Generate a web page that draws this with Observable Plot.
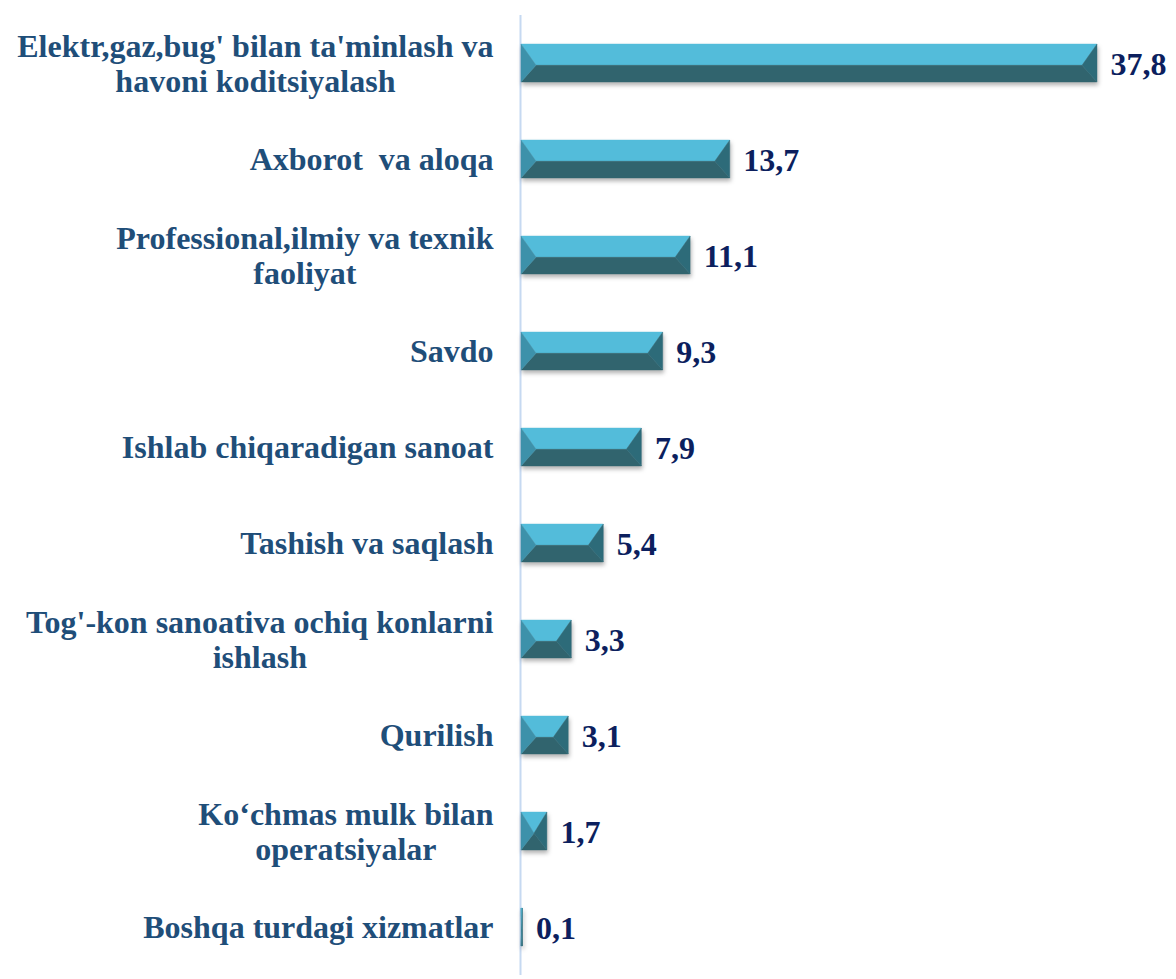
<!DOCTYPE html>
<html>
<head>
<meta charset="utf-8">
<script src="https://cdn.jsdelivr.net/npm/d3@7"></script>
<script src="https://cdn.jsdelivr.net/npm/@observablehq/plot@0.6"></script>
<style>
  html, body { margin: 0; padding: 0; background: #fff; }
  #chart svg { display: block; }
</style>
</head>
<body>
<div id="chart"></div>
<script>
// ---- data ----
const categories = [
  "Elektr,gaz,bug' bilan ta'minlash va\nhavoni koditsiyalash",
  "Axborot  va aloqa",
  "Professional,ilmiy va texnik\nfaoliyat",
  "Savdo",
  "Ishlab chiqaradigan sanoat",
  "Tashish va saqlash",
  "Tog'-kon sanoativa ochiq konlarni\nishlash",
  "Qurilish",
  "Ko‘chmas mulk bilan\noperatsiyalar",
  "Boshqa turdagi xizmatlar"
];
const shares = [37.8, 13.7, 11.1, 9.3, 7.9, 5.4, 3.3, 3.1, 1.7, 0.1];

const data = categories.map((name, i) => ({name, value: shares[i]}));

// ---- styling ----
const FONT = "'Liberation Serif', 'Times New Roman', serif";
const LABEL_SIZE = 32;
const LABEL_GAP = 28;
const measureCtx = document.createElement("canvas").getContext("2d");
measureCtx.font = `bold ${LABEL_SIZE}px 'Liberation Serif'`;
const blockWidth = s => Math.max(...s.split("\n").map(l => measureCtx.measureText(l).width));

const C_TOP = "#53bcda", C_BOTTOM = "#31646e", C_LEFT = "#3d91aa", C_RIGHT = "#2d6b79";

function bevelRender(index, scales, values, dimensions, context, next) {
  const g = next(index, scales, values, dimensions, context);
  const ns = "http://www.w3.org/2000/svg";
  const rects = Array.from(g.querySelectorAll("rect"));
  for (const r of rects) {
    const x = +r.getAttribute("x"), y = +r.getAttribute("y");
    const w = +r.getAttribute("width"), h = +r.getAttribute("height");
    const L = x, R = x + w, T = y, B = y + h, M = y + h * 0.56;
    const b = Math.min(15, w / 2);
    const polys = [
      [C_TOP, [[L, T], [R, T], [R - b, M], [L + b, M]]],
      [C_BOTTOM, [[L, B], [R, B], [R - b, M], [L + b, M]]],
      [C_LEFT, [[L, T], [L + b, M], [L, B]]],
      [C_RIGHT, [[R, T], [R - b, M], [R, B]]]
    ];
    for (const [fill, pts] of polys) {
      const p = document.createElementNS(ns, "polygon");
      p.setAttribute("points", pts.map(d => d.join(",")).join(" "));
      p.setAttribute("fill", fill);
      p.setAttribute("stroke", fill);
      p.setAttribute("stroke-width", "0.4");
      g.appendChild(p);
    }
    r.remove();
  }
  g.setAttribute("style", "filter: drop-shadow(1px 3px 2px rgba(0,0,0,0.3))");
  return g;
}

const labelMarks = data.map(d => Plot.text([d], {
  x: () => 0,
  y: "name",
  text: "name",
  textAnchor: "middle",
  lineAnchor: "middle",
  lineHeight: 1.07,
  dx: -LABEL_GAP - blockWidth(d.name) / 2,
  fill: "#1f4e79",
  fontSize: LABEL_SIZE,
  fontWeight: "bold",
  fontFamily: FONT
}));

const chart = Plot.plot({
  width: 1176,
  height: 979,
  marginLeft: 521,
  marginRight: 79,
  marginTop: 15,
  marginBottom: 4,
  x: {domain: [0, 37.8], axis: null},
  y: {domain: categories, axis: null, paddingInner: 0.6, paddingOuter: 0.3},
  marks: [
    Plot.ruleX([0], {stroke: "#c6d9f1", strokeWidth: 2, dx: -1}),
    Plot.barX(data, {x: "value", y: "name", fill: C_TOP, render: bevelRender}),
    Plot.text(data, {
      x: "value",
      y: "name",
      text: d => d.value.toFixed(1).replace(".", ","),
      textAnchor: "start",
      dx: 13,
      dy: 1,
      fill: "#0c1f5e",
      fontSize: 32,
      fontWeight: "bold",
      fontFamily: FONT
    }),
    ...labelMarks
  ]
});
document.getElementById("chart").appendChild(chart);
</script>
</body>
</html>
